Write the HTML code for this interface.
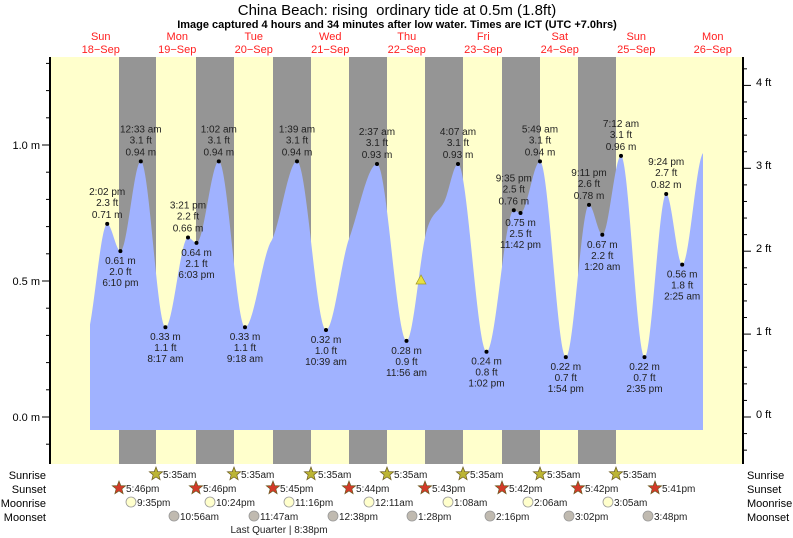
<!DOCTYPE html>
<html><head><meta charset="utf-8"><style>
body{margin:0;background:#fff;}
svg{display:block;font-family:"Liberation Sans",sans-serif;}
</style></head><body>
<svg id="s" width="793" height="538" viewBox="0 0 793 538" xmlns="http://www.w3.org/2000/svg">
<rect x="50" y="57" width="693" height="407" fill="#ffffcc"/>
<g fill="#959595">
<rect x="119" y="57" width="37" height="407"/>
<rect x="196" y="57" width="38" height="407"/>
<rect x="273" y="57" width="38" height="407"/>
<rect x="349" y="57" width="38" height="407"/>
<rect x="425" y="57" width="38" height="407"/>
<rect x="502" y="57" width="38" height="407"/>
<rect x="578" y="57" width="38" height="407"/>
</g>
<path id="tide" fill="#a0b2ff" d=""/>
<polygon points="421,275 416,284 426,284" fill="#e8e040" stroke="#a09a20" stroke-width="0.7"/>
<g id="lab" font-size="10" fill="#222" text-anchor="middle"></g>
<line x1="50" y1="57" x2="50" y2="464" stroke="#000" stroke-width="2"/>
<line x1="743" y1="57" x2="743" y2="464" stroke="#000" stroke-width="2"/>
<g id="ticks" stroke="#000" stroke-width="1"></g>
<g font-size="11" fill="#000">
<text x="40" y="149" text-anchor="end">1.0 m</text>
<text x="40" y="285" text-anchor="end">0.5 m</text>
<text x="40" y="421" text-anchor="end">0.0 m</text>
<text x="756" y="86">4 ft</text>
<text x="756" y="169">3 ft</text>
<text x="756" y="252">2 ft</text>
<text x="756" y="335">1 ft</text>
<text x="756" y="418">0 ft</text>
</g>
<text x="397" y="15" font-size="15" text-anchor="middle" xml:space="preserve">China Beach: rising  ordinary tide at 0.5m (1.8ft)</text>
<text x="397" y="28" font-size="11" font-weight="bold" text-anchor="middle">Image captured 4 hours and 34 minutes after low water. Times are ICT (UTC +7.0hrs)</text>
<g id="days" font-size="11" fill="#ff2020" text-anchor="middle"></g>
<g font-size="11" fill="#000">
<text x="46" y="479" text-anchor="end">Sunrise</text>
<text x="46" y="493" text-anchor="end">Sunset</text>
<text x="46" y="507" text-anchor="end">Moonrise</text>
<text x="46" y="521" text-anchor="end">Moonset</text>
<text x="747" y="479">Sunrise</text>
<text x="747" y="493">Sunset</text>
<text x="747" y="507">Moonrise</text>
<text x="747" y="521">Moonset</text>
</g>
<g id="astro" font-size="10" fill="#222"></g>
<text x="279" y="533" font-size="10" fill="#222" text-anchor="middle">Last Quarter | 8:38pm</text>
</svg>
<script>
var NS="http://www.w3.org/2000/svg";
function Y(h){return 417-h*272;}
function X(t){return 62.5+t*3.1875;}
// [x,h,slope]
var pts=[[90,0.34,0.02],[107.2,0.71,0],[120.4,0.61,0],[140.8,0.94,0],[165.4,0.33,0],[188,0.66,0],[196.5,0.64,0],[218.8,0.94,0],[245,0.33,0],[271,0.645,0.006],[297,0.94,0],[326,0.32,0],[349,0.655,0.010],[377,0.93,0],[406.5,0.28,0],[427,0.69,0.012],[444,0.79,0.007],[458,0.93,0],[486.5,0.24,0],[513.8,0.76,0],[520.5,0.75,0],[540,0.94,0],[565.8,0.22,0],[589,0.78,0],[602.3,0.67,0],[621,0.96,0],[644.5,0.22,0],[666.2,0.82,0],[682.2,0.56,0],[703,0.97,0.004]];
var d="M90,430 ";
for(var i=0;i<pts.length-1;i++){var a=pts[i],b=pts[i+1],dx=b[0]-a[0];
 for(var x=a[0];x<b[0];x+=0.5){var t=(x-a[0])/dx,t2=t*t,t3=t2*t;
  var h=(2*t3-3*t2+1)*a[1]+(t3-2*t2+t)*dx*a[2]+(-2*t3+3*t2)*b[1]+(t3-t2)*dx*b[2];
  d+="L"+x.toFixed(1)+","+Y(h).toFixed(1)+" ";}}
d+="L703,"+Y(0.97).toFixed(1)+" L703,430 Z";
document.getElementById("tide").setAttribute("d",d);
function T(g,x,y,s,anc,fs,fill){var e=document.createElementNS(NS,"text");e.setAttribute("x",x);e.setAttribute("y",y);if(anc)e.setAttribute("text-anchor",anc);if(fs)e.setAttribute("font-size",fs);if(fill)e.setAttribute("fill",fill);e.textContent=s;g.appendChild(e);}
var lab=document.getElementById("lab");
var L=[[107.2,.71,"2:02 pm","2.3 ft","0.71 m",1],[120.4,.61,"6:10 pm","2.0 ft","0.61 m",0],[140.8,.94,"12:33 am","3.1 ft","0.94 m",1],[165.4,.33,"8:17 am","1.1 ft","0.33 m",0],[188,.66,"3:21 pm","2.2 ft","0.66 m",1],[196.5,.64,"6:03 pm","2.1 ft","0.64 m",0],[218.8,.94,"1:02 am","3.1 ft","0.94 m",1],[245,.33,"9:18 am","1.1 ft","0.33 m",0],[297,.94,"1:39 am","3.1 ft","0.94 m",1],[326,.32,"10:39 am","1.0 ft","0.32 m",0],[377,.93,"2:37 am","3.1 ft","0.93 m",1],[406.5,.28,"11:56 am","0.9 ft","0.28 m",0],[458,.93,"4:07 am","3.1 ft","0.93 m",1],[486.5,.24,"1:02 pm","0.8 ft","0.24 m",0],[513.8,.76,"9:35 pm","2.5 ft","0.76 m",1],[520.5,.75,"11:42 pm","2.5 ft","0.75 m",0],[540,.94,"5:49 am","3.1 ft","0.94 m",1],[565.8,.22,"1:54 pm","0.7 ft","0.22 m",0],[589,.78,"9:11 pm","2.6 ft","0.78 m",1],[602.3,.67,"1:20 am","2.2 ft","0.67 m",0],[621,.96,"7:12 am","3.1 ft","0.96 m",1],[644.5,.22,"2:35 pm","0.7 ft","0.22 m",0],[666.2,.82,"9:24 pm","2.7 ft","0.82 m",1],[682.2,.56,"2:25 am","1.8 ft","0.56 m",0]];
L.forEach(function(p){var y=Y(p[1]);var c=document.createElementNS(NS,"circle");c.setAttribute("cx",p[0]);c.setAttribute("cy",y);c.setAttribute("r",2);c.setAttribute("fill","#000");lab.appendChild(c);
 if(p[5]){T(lab,p[0],y-29,p[2]);T(lab,p[0],y-18,p[3]);T(lab,p[0],y-6,p[4]);}
 else{T(lab,p[0],y+13,p[4]);T(lab,p[0],y+24,p[3]);T(lab,p[0],y+35,p[2]);}});
var tk=document.getElementById("ticks"),ts="";
for(var i=-1;i<=13;i++){var y=417-i*27.2;if(y<57||y>464)continue;var l=(i%5==0)?8:4;ts+='<line x1="'+(50-l)+'" y1="'+y+'" x2="50" y2="'+y+'"/>';}
for(var i=-3;i<=21;i++){var y=417-i*0.2*82.9;if(y<57||y>464)continue;var l=(i%5==0)?8:4;ts+='<line x1="743" y1="'+y+'" x2="'+(743+l)+'" y2="'+y+'"/>';}
tk.innerHTML=ts;
var dg=document.getElementById("days");
[["Sun","18\u2212Sep"],["Mon","19\u2212Sep"],["Tue","20\u2212Sep"],["Wed","21\u2212Sep"],["Thu","22\u2212Sep"],["Fri","23\u2212Sep"],["Sat","24\u2212Sep"],["Sun","25\u2212Sep"],["Mon","26\u2212Sep"]].forEach(function(d,i){var x=X(12+24*i);T(dg,x,40,d[0]);T(dg,x,53,d[1]);});
var ag=document.getElementById("astro");
function star(x,y,fill){var s="";for(var k=0;k<10;k++){var r=k%2?3:7,a=-Math.PI/2+k*Math.PI/5;s+=(x+r*Math.cos(a)).toFixed(1)+","+(y+r*Math.sin(a)).toFixed(1)+" ";}
 var p=document.createElementNS(NS,"polygon");p.setAttribute("points",s);p.setAttribute("fill",fill);p.setAttribute("stroke","#6a5a20");p.setAttribute("stroke-width","0.7");ag.appendChild(p);}
function circ(x,y,fill){var c=document.createElementNS(NS,"circle");c.setAttribute("cx",x);c.setAttribute("cy",y);c.setAttribute("r",5);c.setAttribute("fill",fill);c.setAttribute("stroke","#999");c.setAttribute("stroke-width","0.8");ag.appendChild(c);}
[156,234,311,387,463,540,616].forEach(function(x){star(x,474,"#bcb534");T(ag,x+7,478,"5:35am");});
[[119,"5:46pm"],[196,"5:46pm"],[273,"5:45pm"],[349,"5:44pm"],[425,"5:43pm"],[502,"5:42pm"],[578,"5:42pm"],[655,"5:41pm"]].forEach(function(p){star(p[0],488,"#d23a28");T(ag,p[0]+7,492,p[1]);});
[[131,"9:35pm"],[210,"10:24pm"],[289,"11:16pm"],[369,"12:11am"],[448,"1:08am"],[528,"2:06am"],[608,"3:05am"]].forEach(function(p){circ(p[0],502,"#ffffcc");T(ag,p[0]+6,506,p[1]);});
[[174,"10:56am"],[254,"11:47am"],[333,"12:38pm"],[412,"1:28pm"],[490,"2:16pm"],[569,"3:02pm"],[648,"3:48pm"]].forEach(function(p){circ(p[0],516,"#c0bab0");T(ag,p[0]+6,520,p[1]);});
</script>
</body></html>
